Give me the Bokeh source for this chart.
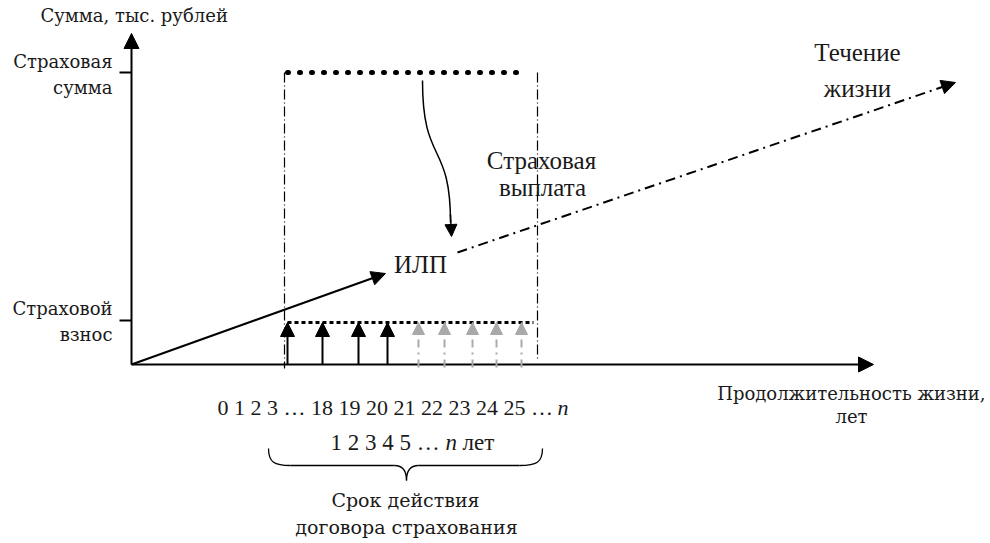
from bokeh.plotting import figure
from bokeh.models import Range1d, Arrow, NormalHead, ColumnDataSource
from bokeh.core.properties import value
from bokeh.embed import file_html
from bokeh.resources import INLINE

# ---- diagram values (page coordinates, y grows downward) ----
origin = [131, 364]
y_axis_top = 33
x_axis_end = 873
sum_level = 72          # Страховая сумма
premium_level = 322     # Страховой взнос
contract_start = 284
contract_end = 537
paid_x = [287, 322, 358, 387]              # paid premiums (black)
future_x = [418, 444, 472, 496, 521]       # future premiums (grey)
ilp_tip = [385, 273]
life_start = [457, 252]
life_tip = [955, 82]
wave_start = [422, 80]
wave_end = [450, 222]
wave_tip = [451, 236]

years_row = "0 1 2 3 … 18 19 20 21 22 23 24 25 …"
term_row = "1 2 3 4 5 …"

SERIF = value("Liberation Serif")
WIDE_SERIF = value("DejaVu Serif")

p = figure(width=990, height=543, output_backend="svg", toolbar_location=None,
           x_range=Range1d(0, 990), y_range=Range1d(543, 0), min_border=0)
p.axis.visible = False
p.grid.visible = False
p.outline_line_color = None
p.background_fill_color = "white"

def arrow(x0, y0, x1, y1, size=14, color="black", width=2, dash="solid"):
    p.add_layout(Arrow(end=NormalHead(size=size, fill_color=color, line_color=color),
                       x_start=x0, y_start=y0, x_end=x1, y_end=y1,
                       line_color=color, line_width=width, line_dash=dash))

# axes
arrow(origin[0], origin[1], origin[0], y_axis_top, size=15, width=2)
arrow(origin[0], origin[1], x_axis_end, origin[1], size=15, width=2)
# y ticks
p.segment(x0=[origin[0] - 12] * 2, y0=[sum_level, premium_level - 2],
          x1=[origin[0]] * 2, y1=[sum_level, premium_level - 2], line_color="black", line_width=2)

# insurance sum dotted line
p.line([contract_start + 3, contract_end - 12], [sum_level, sum_level], line_color="black",
       line_width=5, line_dash="1 11", line_cap="round")
# premium level dotted line
p.line([contract_start + 3, contract_end - 4], [premium_level, premium_level], line_color="black",
       line_width=3, line_dash="4 3")
# contract boundaries
p.segment(x0=[contract_start, contract_end], y0=[sum_level, sum_level],
          x1=[contract_start, contract_end], y1=[origin[1] + 4, origin[1] - 4],
          line_color="black", line_width=1.2, line_dash="10 3 1 3")

# paid premiums
src_paid = ColumnDataSource(dict(x=paid_x, y0=[origin[1]] * len(paid_x), y1=[premium_level] * len(paid_x)))
p.add_layout(Arrow(end=NormalHead(size=14, fill_color="black", line_color="black"),
                   x_start="x", y_start="y0", x_end="x", y_end="y1", source=src_paid,
                   line_color="black", line_width=2))
src_fut = ColumnDataSource(dict(x=future_x, y0=[origin[1] + 3] * len(future_x), y1=[premium_level] * len(future_x)))
p.add_layout(Arrow(end=NormalHead(size=12, fill_color="#a9a9a9", line_color="#a9a9a9"),
                   x_start="x", y_start="y0", x_end="x", y_end="y1", source=src_fut,
                   line_color="#a9a9a9", line_width=2, line_dash="8 5 2 5"))

# ИЛП growth arrow
arrow(origin[0], origin[1], ilp_tip[0], ilp_tip[1], size=14, width=2)
# life course
arrow(life_start[0], life_start[1], life_tip[0], life_tip[1], size=14, width=2, dash="10 5 2 5")

# wavy payout arrow
p.bezier(x0=[wave_start[0]], y0=[wave_start[1]], x1=[wave_end[0]], y1=[wave_end[1]],
         cx0=[wave_start[0]], cy0=[165], cx1=[wave_end[0]], cy1=[140],
         line_color="black", line_width=1.5)
arrow(wave_end[0], wave_end[1] - 8, wave_tip[0], wave_tip[1], size=12, width=1.5)

# brace
bx = dict(x0=[268, 394, 406, 519], y0=[448, 465, 480, 465],
          x1=[290, 406, 418, 542], y1=[465, 480, 465, 448],
          cx0=[268, 402, 406, 536], cy0=[462, 465, 470, 465],
          cx1=[274, 406, 410, 542], cy1=[465, 470, 465, 462])
p.bezier(source=ColumnDataSource(bx), x0="x0", y0="y0", x1="x1", y1="y1",
         cx0="cx0", cy0="cy0", cx1="cx1", cy1="cy1", line_color="black", line_width=1.3)
p.segment(x0=[290, 418], y0=[465, 465], x1=[394, 519], y1=[465, 465], line_color="black", line_width=1.3)

def txt(x, y, s, size=17, align="left", style="normal", font=SERIF):
    p.text(x=[x], y=[y], text=[s], text_font=font, text_font_size=f"{size}px",
           text_align=align, text_baseline="middle", text_color="#1a1a1a", text_font_style=style)

txt(40, 15, "Сумма, тыс. рублей", 18, font=WIDE_SERIF)
txt(112, 61, "Страховая", 18, "right", font=WIDE_SERIF)
txt(112, 87, "сумма", 18, "right", font=WIDE_SERIF)
txt(112, 308, "Страховой", 18, "right", font=WIDE_SERIF)
txt(112, 334, "взнос", 18, "right", font=WIDE_SERIF)
txt(985, 393, "Продолжительность жизни,", 18, "right", font=WIDE_SERIF)
txt(851, 416, "лет", 18, "center", font=WIDE_SERIF)
txt(405, 499, "Срок действия", 19, "center", font=WIDE_SERIF)
txt(406, 526, "договора страхования", 19, "center", font=WIDE_SERIF)

txt(541, 160, "Страховая", 25, "center")
txt(542, 187, "выплата", 25, "center")
txt(420, 264, "ИЛП", 25, "center")
txt(857, 52, "Течение", 25, "center")
txt(857, 88, "жизни", 25, "center")

txt(217, 407, years_row, 22, "left")
txt(557, 407, "n", 22, "left", "italic")
txt(330, 442, term_row, 23, "left")
txt(445, 442, "n", 23, "left", "italic")
txt(462, 442, "лет", 23, "left")

open("out.html", "w").write(file_html(p, INLINE))
